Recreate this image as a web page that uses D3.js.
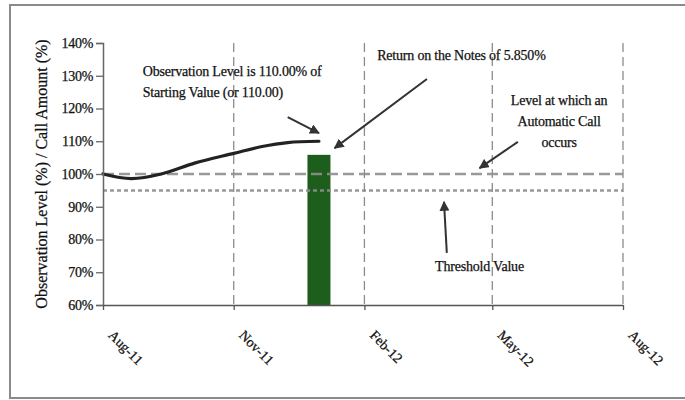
<!DOCTYPE html>
<html><head><meta charset="utf-8">
<script src="https://cdn.jsdelivr.net/npm/d3@7"></script>
<style>body{margin:0;background:#fff}svg{display:block}text{font-family:"Liberation Serif","Times New Roman",serif;fill:#111;stroke:#111;stroke-width:0.25px}</style>
</head><body>
<svg id="c" width="685" height="400"></svg>
<script>
// ---- data ----
const xTickDates = ["2011-08-01","2011-11-01","2012-02-01","2012-05-01","2012-08-01"];
const xTickLabels = ["Aug-11","Nov-11","Feb-12","May-12","Aug-12"];
const yTicks = [60,70,80,90,100,110,120,130,140];
const lineDates = ["2011-08-01","2011-08-21","2011-09-11","2011-10-05","2011-11-01","2011-11-21","2011-12-09","2011-12-31"];
const lineValues = [100.0, 98.6, 100.0, 103.4, 106.3, 108.4, 109.6, 110.0];
const callLevel = 100;
const thresholdLevel = 95;
const barDate = "2011-12-31";
const barValue = 105.85;
const labels = [
  {lines:["Observation Level is 110.00% of","Starting Value (or 110.00)"], date:"2011-08-29", value:130, anchor:"start"},
  {lines:["Return on the Notes of 5.850%"], date:"2012-02-10", value:134.8, anchor:"start"},
  {lines:["Level at which an","Automatic Call","occurs"], date:"2012-06-17", value:121.1, anchor:"middle"},
  {lines:["Threshold Value"], date:"2012-04-22", value:70.4, anchor:"middle"}
];
const arrows = [
  {from:["2011-12-09",117.4], to:["2011-12-31",112.5]},
  {from:["2012-03-16",129.0], to:["2012-01-11",107.9]},
  {from:["2012-05-19",109.8], to:["2012-04-22",101.8]},
  {from:["2012-03-30",75.9], to:["2012-03-28",91.5]}
];

// ---- chart ----
const P = d3.timeParse("%Y-%m-%d");
const svg = d3.select("#c");
const L = 103, R = 623, T = 43, B = 305;
const x = d3.scaleTime().domain([P(xTickDates[0]), P(xTickDates[xTickDates.length-1])]).range([L, R]);
const y = d3.scaleLinear().domain([60,140]).range([B, T]);

// frame
svg.append("rect").attr("x",10).attr("y",5).attr("width",690).attr("height",393)
  .attr("fill","none").attr("stroke","#8a8a8a").attr("stroke-width",2);

svg.append("defs").append("marker").attr("id","ah").attr("viewBox","0 0 10 10")
  .attr("refX",9).attr("refY",5).attr("markerWidth",5).attr("markerHeight",5)
  .attr("orient","auto").attr("markerUnits","strokeWidth")
  .append("path").attr("d","M0,0 L10,5 L0,10 z").attr("fill","#333");

// vertical gridlines
svg.append("g").selectAll("line").data(xTickDates.slice(1)).join("line")
  .attr("x1",d=>x(P(d))).attr("x2",d=>x(P(d))).attr("y1",T).attr("y2",B)
  .attr("stroke","#8c8c8c").attr("stroke-width",1.3).attr("stroke-dasharray","9,5");

// bar
const bw = 23;
svg.append("rect").attr("x",x(P(barDate))-bw/2).attr("width",bw)
  .attr("y",y(barValue)).attr("height",y(60)-y(barValue)).attr("fill","#1d5e1d");

// horizontal reference lines
svg.append("line").attr("x1",L).attr("x2",R).attr("y1",y(callLevel)).attr("y2",y(callLevel))
  .attr("stroke","#8f8f8f").attr("stroke-width",2.5).attr("stroke-dasharray","11,5").attr("opacity",0.9);
svg.append("line").attr("x1",L).attr("x2",R).attr("y1",y(thresholdLevel)).attr("y2",y(thresholdLevel))
  .attr("stroke","#8f8f8f").attr("stroke-width",2.5).attr("stroke-dasharray","4,3").attr("opacity",0.9);

// level line
const lineData = lineDates.map((d,i)=>({d:P(d), v:lineValues[i]}));
svg.append("path").datum(lineData)
  .attr("d", d3.line().x(d=>x(d.d)).y(d=>y(d.v)).curve(d3.curveCatmullRom.alpha(0.5)))
  .attr("fill","none").attr("stroke","#222").attr("stroke-width",3.2).attr("stroke-linecap","round");

// y axis
const ya = svg.append("g").attr("transform",`translate(${L},0)`)
  .call(d3.axisLeft(y).tickValues(yTicks).tickFormat(d=>d+"%").tickSize(7).tickPadding(3));
ya.select(".domain").attr("stroke","#666").attr("stroke-width",1.5);
ya.selectAll(".tick line").attr("stroke","#666").attr("stroke-width",1.3);
ya.selectAll(".tick text").attr("font-size",14).attr("font-family","Liberation Serif").attr("fill","#111").attr("letter-spacing","-0.3");

// x axis
const xa = svg.append("g").attr("transform",`translate(0,${B})`)
  .call(d3.axisBottom(x).tickValues(xTickDates.map(P)).tickFormat((d,i)=>xTickLabels[i]).tickSize(5).tickSizeOuter(0));
xa.select(".domain").attr("stroke","#555").attr("stroke-width",1.5);
xa.selectAll(".tick line").attr("stroke","#555").attr("stroke-width",1.3);
xa.selectAll(".tick text").attr("font-size",14).attr("font-family","Liberation Serif").attr("fill","#111")
  .attr("text-anchor","start").attr("dy",0).attr("y",0)
  .attr("transform","translate(4,31) rotate(45)");

// y title
svg.append("text").attr("transform",`translate(47,${(T+B)/2}) rotate(-90)`)
  .attr("text-anchor","middle").attr("font-size",16).text("Observation Level (%) / Call Amount (%)");

// annotations
labels.forEach(l=>{
  const t = svg.append("text").attr("x",x(P(l.date))).attr("y",y(l.value))
    .attr("text-anchor",l.anchor).attr("font-size",14).attr("letter-spacing","-0.2");
  l.lines.forEach((s,i)=>t.append("tspan").attr("x",x(P(l.date))).attr("dy",i?21:0).text(s));
});
svg.append("g").selectAll("line").data(arrows).join("line")
  .attr("x1",d=>x(P(d.from[0]))).attr("y1",d=>y(d.from[1]))
  .attr("x2",d=>x(P(d.to[0]))).attr("y2",d=>y(d.to[1]))
  .attr("stroke","#333").attr("stroke-width",2).attr("marker-end","url(#ah)");
</script>
</body></html>
